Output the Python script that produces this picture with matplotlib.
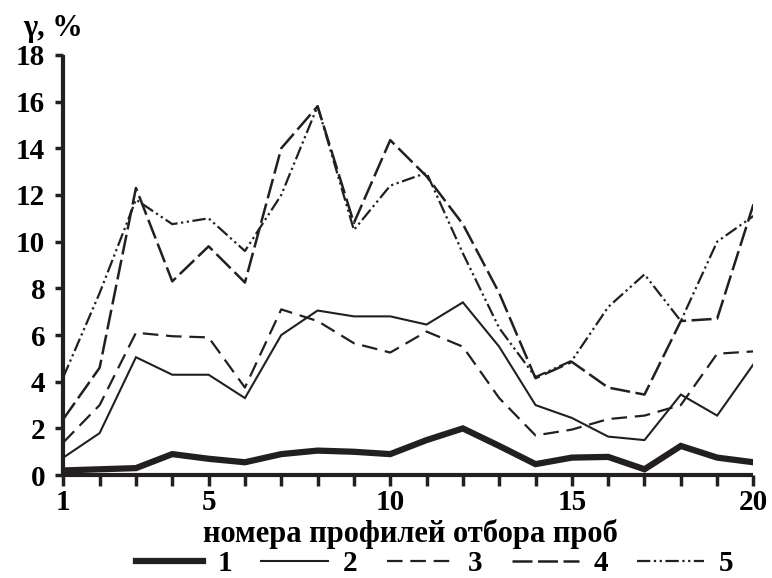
import matplotlib.pyplot as plt
from matplotlib.lines import Line2D

# номера профилей
profiles = list(range(1, 21))

s1 = [0.2, 0.25, 0.3, 0.9, 0.7, 0.55, 0.9, 1.05, 1.0, 0.9, 1.5, 2.0, 1.25, 0.47, 0.75, 0.78, 0.25, 1.25, 0.75, 0.55]
s2 = [0.75, 1.8, 5.05, 4.3, 4.3, 3.3, 6.0, 7.05, 6.8, 6.8, 6.45, 7.4, 5.5, 3.0, 2.45, 1.65, 1.5, 3.45, 2.55, 4.75]
s3 = [1.4, 3.0, 6.1, 5.95, 5.9, 3.75, 7.1, 6.6, 5.65, 5.25, 6.15, 5.5, 3.3, 1.7, 1.95, 2.4, 2.55, 3.0, 5.2, 5.3]
s4 = [2.4, 4.6, 12.3, 8.3, 9.8, 8.25, 14.0, 15.8, 10.8, 14.35, 12.8, 10.75, 7.8, 4.15, 4.85, 3.75, 3.45, 6.6, 6.7, 11.6]
s5 = [4.2, 7.8, 11.8, 10.75, 11.0, 9.6, 12.0, 15.8, 10.5, 12.4, 12.95, 9.5, 6.3, 4.2, 4.9, 7.2, 8.6, 6.6, 10.0, 11.1]

series_labels = ['1', '2', '3', '4', '5']
xtick_labels = [1, 5, 10, 15, 20]
ylabel = 'γ, %'
xlabel = 'номера профилей отбора проб'

ink = '#231f20'
plt.rcParams['font.family'] = ['Liberation Serif', 'DejaVu Serif']
plt.rcParams['font.weight'] = 'bold'

fig = plt.figure(figsize=(7.72, 5.78), dpi=100)
ax = fig.add_axes([0.082, 0.178, 0.894, 0.727])

styles = [
    dict(lw=4.5, ls='-'),
    dict(lw=1.5, ls='-'),
    dict(lw=1.6, ls=(0, (7, 3.5))),
    dict(lw=1.8, ls=(0, (8, 2.2))),
    dict(lw=1.6, ls=(0, (6, 1.6, 1, 1.6, 1, 1.6))),
]
for vals, st, lab in zip([s1, s2, s3, s4, s5], styles, series_labels):
    ax.plot(profiles, vals, color=ink, label=lab, solid_joinstyle='miter', **st)

ax.set_xlim(1, 20)
ax.set_ylim(0, 18)
ax.set_xticks(profiles)
ax.set_xticklabels([str(p) if p in xtick_labels else '' for p in profiles])
ax.set_yticks(range(0, 19, 2))

for side in ['top', 'right']:
    ax.spines[side].set_visible(False)
for side in ['left', 'bottom']:
    ax.spines[side].set_linewidth(3)
    ax.spines[side].set_color(ink)
    ax.spines[side].set_capstyle('butt')

ax.tick_params(axis='x', direction='out', length=8, width=2.5, color=ink, labelsize=21, pad=2)
ax.tick_params(axis='y', direction='out', length=6, width=2.5, color=ink, labelsize=21, pad=7)
for t in ax.get_xticklabels() + ax.get_yticklabels():
    t.set_fontweight('bold')
    t.set_color('black')

ax.set_xlabel(xlabel, fontsize=22, fontweight='bold', va='baseline')
ax.xaxis.set_label_coords(0.503, -0.158)
fig.text(0.03, 0.975, ylabel, fontsize=22, fontweight='bold', ha='left', va='top')

handles = [Line2D([0], [0], color=ink, **st) for st in styles]
fig.legend(handles, series_labels, loc='center', ncol=5, frameon=False,
           bbox_to_anchor=(0.563, 0.025), handlelength=2.3,
           handletextpad=0.5, columnspacing=1.0, borderpad=0,
           prop={'weight': 'bold', 'size': 21})

fig.savefig('out.png', dpi=100)
